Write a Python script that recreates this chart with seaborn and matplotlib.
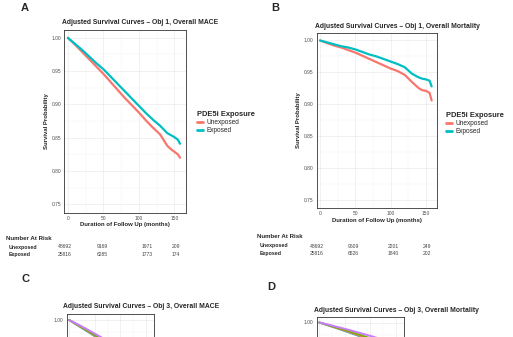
import matplotlib
matplotlib.use("Agg")
import matplotlib.pyplot as plt
import seaborn as sns
import pandas as pd

# ---------------- data ----------------
months = [0, 10, 20, 30, 40, 50, 60, 70, 80, 90, 100, 110, 120, 130, 140, 145, 150, 155, 158]
a_unexposed = [1.000, 0.990, 0.979, 0.968, 0.957, 0.946, 0.934, 0.922, 0.910, 0.899,
               0.888, 0.876, 0.865, 0.855, 0.838, 0.833, 0.829, 0.825, 0.820]
a_exposed = [1.000, 0.991, 0.982, 0.972, 0.962, 0.953, 0.942, 0.931, 0.920, 0.909,
             0.898, 0.887, 0.877, 0.868, 0.857, 0.854, 0.851, 0.847, 0.841]
b_unexposed = [1.000, 0.996, 0.992, 0.989, 0.985, 0.981, 0.976, 0.971, 0.966, 0.961,
               0.956, 0.952, 0.946, 0.935, 0.925, 0.922, 0.921, 0.918, 0.906]
b_exposed = [1.000, 0.997, 0.994, 0.991, 0.989, 0.986, 0.982, 0.978, 0.975, 0.971,
             0.967, 0.963, 0.958, 0.948, 0.942, 0.940, 0.939, 0.937, 0.928]

c_months = [0, 20, 40, 60, 80, 100, 120, 140, 158]
c_g1 = [1.000, 0.978, 0.955, 0.931, 0.906, 0.880, 0.853, 0.825, 0.800]
c_g2 = [1.000, 0.975, 0.950, 0.924, 0.897, 0.869, 0.840, 0.810, 0.783]
c_g3 = [1.000, 0.974, 0.948, 0.921, 0.893, 0.864, 0.834, 0.803, 0.775]
c_g4 = [1.000, 0.973, 0.946, 0.918, 0.889, 0.859, 0.828, 0.796, 0.767]
d_g1 = [1.000, 0.990, 0.979, 0.968, 0.956, 0.944, 0.931, 0.917, 0.904]
d_g2 = [1.000, 0.988, 0.975, 0.962, 0.948, 0.934, 0.919, 0.903, 0.888]
d_g3 = [1.000, 0.987, 0.973, 0.959, 0.944, 0.929, 0.913, 0.896, 0.880]
d_g4 = [1.000, 0.986, 0.972, 0.957, 0.942, 0.926, 0.910, 0.893, 0.877]

groups = ["Unexposed", "Exposed"]
c_groups = ["G1", "G2", "G3", "G4"]
x_ticks = [0, 50, 100, 150]
y_ticks = [0.75, 0.80, 0.85, 0.90, 0.95, 1.00]

risk_a_unexposed = ["48692", "9169", "1971", "209"]
risk_a_exposed = ["25816", "6285", "1773", "174"]
risk_b_unexposed = ["48692", "9609", "2201", "249"]
risk_b_exposed = ["25816", "6526", "1840", "202"]

titles = ["Adjusted Survival Curves \u2013 Obj 1, Overall MACE",
          "Adjusted Survival Curves \u2013 Obj 1, Overall Mortality",
          "Adjusted Survival Curves \u2013 Obj 3, Overall MACE",
          "Adjusted Survival Curves \u2013 Obj 3, Overall Mortality"]

# ---------------- style ----------------
sns.set_style("white")
plt.rcParams["font.family"] = ["Liberation Sans", "DejaVu Sans"]

W, H = 513, 337
fig = plt.figure(figsize=(W / 100, H / 100), dpi=100)
fig.patch.set_facecolor("white")

pal2 = {"Unexposed": "#F8766D", "Exposed": "#00BFC4"}
pal4 = {"G1": "#C77CFF", "G2": "#7CAE00", "G3": "#F8766D", "G4": "#00BFC4"}


def ax_at(left, top, right, bottom):
    return fig.add_axes([left / W, 1 - bottom / H, (right - left) / W, (bottom - top) / H])


def ftext(x, y, s, **kw):
    fig.text(x / W, 1 - y / H, s, **kw)


def style_ax(ax, full=True):
    ax.set_xlim(-5, 166)
    ax.set_xticks(x_ticks)
    ax.set_xticks([25, 75, 125], minor=True)
    if full:
        ax.set_ylim(0.7375, 1.0125)
        ax.set_yticks(y_ticks)
        ax.set_yticks([0.775, 0.825, 0.875, 0.925, 0.975], minor=True)
        ax.set_yticklabels([f"{v:.2f}" for v in y_ticks])
    ax.grid(True, which="major", color="#EBEBEB", lw=0.5)
    ax.grid(True, which="minor", color="#F3F3F3", lw=0.3)
    ax.set_axisbelow(True)
    for sp in ax.spines.values():
        sp.set_color("#333333")
        sp.set_linewidth(0.6)
    ax.tick_params(axis="both", which="major", labelsize=3.5, colors="#333333",
                   labelcolor="#4D4D4D", length=1.5, width=0.4, pad=0.8)
    ax.tick_params(axis="both", which="minor", length=0)
    if full:
        ax.set_xlabel("Duration of Follow Up (months)", fontsize=4.3, fontweight="bold", labelpad=1)
        ax.set_ylabel("Survival Probability", fontsize=4.3, fontweight="bold", labelpad=2)
    else:
        ax.set_xlabel("")
        ax.set_ylabel("")
        ax.set_xticklabels([])


def long_df(x, series, names):
    rows = []
    for name, vals in zip(names, series):
        for xi, yi in zip(x, vals):
            rows.append({"Month": xi, "Survival": yi, "Group": name})
    return pd.DataFrame(rows)


legend_kw = dict(frameon=False, title="PDE5i Exposure", fontsize=4.7,
                 title_fontproperties={"weight": "bold", "size": 5.4},
                 handlelength=0.9, handletextpad=0.5, labelspacing=0.15, alignment="left")

# ---------------- panel A ----------------
axA = ax_at(64.3, 29.5, 185.7, 212.7)
dfA = long_df(months, [a_unexposed, a_exposed], groups)
sns.lineplot(data=dfA, x="Month", y="Survival", hue="Group", hue_order=groups,
             palette=pal2, lw=1.6, ax=axA, legend=True)
style_ax(axA)
sns.move_legend(axA, "upper left", bbox_to_anchor=(191 / W, 1 - 105 / H),
                bbox_transform=fig.transFigure, **legend_kw)
for l in axA.get_legend().get_lines():
    l.set_linewidth(2.0)

# ---------------- panel B ----------------
axB = ax_at(316.5, 32.5, 437.3, 208.0)
dfB = long_df(months, [b_unexposed, b_exposed], groups)
sns.lineplot(data=dfB, x="Month", y="Survival", hue="Group", hue_order=groups,
             palette=pal2, lw=1.6, ax=axB, legend=True)
style_ax(axB)
sns.move_legend(axB, "upper left", bbox_to_anchor=(440 / W, 1 - 106 / H),
                bbox_transform=fig.transFigure, **legend_kw)
for l in axB.get_legend().get_lines():
    l.set_linewidth(2.0)

# ---------------- panel C (cut off at figure bottom) ----------------
axC = ax_at(66.7, 314, 154.3, 446)
dfC = long_df(c_months, [c_g1, c_g2, c_g3, c_g4], c_groups)
sns.lineplot(data=dfC, x="Month", y="Survival", hue="Group", hue_order=c_groups[::-1],
             palette=pal4, lw=1.4, ax=axC, legend=False)
axC.set_ylim(0.475, 1.025)
axC.set_yticks([1.00])
axC.set_yticklabels(["1.00"])
axC.set_yticks([0.95], minor=True)
style_ax(axC, full=False)

# ---------------- panel D (cut off at figure bottom) ----------------
axD = ax_at(316.7, 316.5, 404.3, 448.5)
dfD = long_df(c_months, [d_g1, d_g2, d_g3, d_g4], c_groups)
sns.lineplot(data=dfD, x="Month", y="Survival", hue="Group", hue_order=c_groups[::-1],
             palette=pal4, lw=1.4, ax=axD, legend=False)
axD.set_ylim(0.475, 1.025)
axD.set_yticks([1.00])
axD.set_yticklabels(["1.00"])
axD.set_yticks([0.95], minor=True)
style_ax(axD, full=False)

# ---------------- titles & labels ----------------
for (x, y, s) in [(21, 8, "A"), (271, 8, "B"), (22, 279, "C"), (267, 287, "D")]:
    ftext(x, y, s, fontsize=8, fontweight="bold", va="center", ha="left")

for (x, y, s) in [(62, 22, titles[0]), (315, 26, titles[1]),
                  (63, 307, titles[2]), (314, 310, titles[3])]:
    ftext(x, y, s, fontsize=4.9, fontweight="bold", va="center", ha="left")

# ---------------- number at risk tables ----------------
def risk_table(x0, y0, cols, unexp, exp):
    ftext(x0, y0, "Number At Risk", fontsize=4.4, fontweight="bold", va="center")
    ftext(x0 + 2.5, y0 + 9, "Unexposed", fontsize=3.8, fontweight="bold", va="center")
    ftext(x0 + 2.5, y0 + 16.5, "Exposed", fontsize=3.8, fontweight="bold", va="center")
    for cx, u, e in zip(cols, unexp, exp):
        ftext(cx, y0 + 9, u, fontsize=3.6, va="center", color="#444444")
        ftext(cx, y0 + 16.5, e, fontsize=3.6, va="center", color="#444444")


risk_table(6, 238, [58, 97, 142, 172], risk_a_unexposed, risk_a_exposed)
risk_table(257, 237, [310, 348, 388, 423], risk_b_unexposed, risk_b_exposed)

fig.savefig("out.png", dpi=100, facecolor="white")
